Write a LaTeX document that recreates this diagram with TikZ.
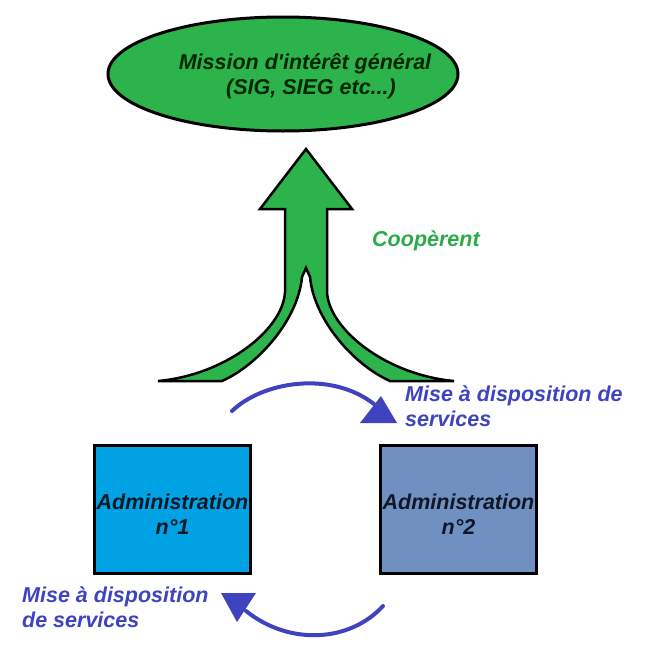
\documentclass[tikz,border=0pt]{standalone}
\usepackage{fontspec}
\setmainfont{Liberation Sans}
\usetikzlibrary{shapes.geometric}
\definecolor{mgreen}{HTML}{2DB34B}
\definecolor{tgreen}{HTML}{2AAA4A}
\definecolor{mblue}{HTML}{3F44BE}
\definecolor{box1}{HTML}{00A2E3}
\definecolor{box2}{HTML}{6F90C0}
\definecolor{dtext}{HTML}{101828}
\tikzset{
  lbl/.style={font=\fontsize{21.5}{25}\selectfont\bfseries\itshape, inner sep=0pt},
  adminbox/.style={draw=black, line width=3pt, minimum width=156pt, minimum height=128pt, inner sep=0pt},
  bluearc/.style={draw=mblue, line width=4pt},
  bluehead/.style={fill=mblue},
}
\begin{document}
\begin{tikzpicture}[x=1pt,y=-1pt]
\useasboundingbox (0,0) rectangle (660,653);
% ellipse
\node[ellipse, draw=black, line width=3pt, fill=mgreen, minimum width=350pt, minimum height=114pt, inner sep=0pt] (mission) at (283,74) {};
\node[lbl, align=center, text=black!85!green] (mtext) at (305,76) {Mission d\textquotesingle intérêt général\\\hspace*{12pt}(SIG, SIEG etc...)};
% big arrow
\draw[fill=mgreen, draw=black, line width=2.5pt, line join=miter] (306,149) -- (352,209) -- (327,209) -- (327,292)
  .. controls (329,330) and (387,375) .. (454,381) -- (390,381)
  .. controls (354,365) and (314,320) .. (310,277) -- (306,268) -- (302,277)
  .. controls (298,320) and (258,365) .. (222,381) -- (158,381)
  .. controls (225,375) and (283,330) .. (285,292) -- (285,209) -- (260,209) -- cycle;
\node[lbl, text=tgreen, anchor=west] (coop) at (372,241) {Coopèrent};
% boxes
\node[adminbox, fill=box1] (a1) at (172.5,509.5) {};
\node[adminbox, fill=box2] (a2) at (458.5,509.5) {};
\node[lbl, text=dtext, align=center] (a1t) at ([yshift=-4.5pt]a1.center) {Administration\\n°1};
\node[lbl, text=dtext, align=center] (a2t) at ([yshift=-4.5pt]a2.center) {Administration\\n°2};
% blue arcs
\coordinate (s1) at (232,411);
\coordinate (e1) at (374,404);
\draw[bluearc, line cap=round] (s1) .. controls (262,382) and (330,370) .. (e1);
\fill[bluehead] (381,396) -- (397,423) -- (360,423) -- cycle;
\node[lbl, text=mblue, anchor=north west, align=left] (t1) at (405,386) {Mise à disposition de\\services};
\coordinate (s2) at (383,606);
\coordinate (e2) at (246,611);
\draw[bluearc, line cap=round] (s2) .. controls (350,642) and (290,646) .. (e2);
\fill[bluehead] (221,593) -- (256,593) -- (237,622) -- cycle;
\node[lbl, text=mblue, anchor=north west, align=left] (t2) at (22,587) {Mise à disposition\\de services};
\end{tikzpicture}
\end{document}
